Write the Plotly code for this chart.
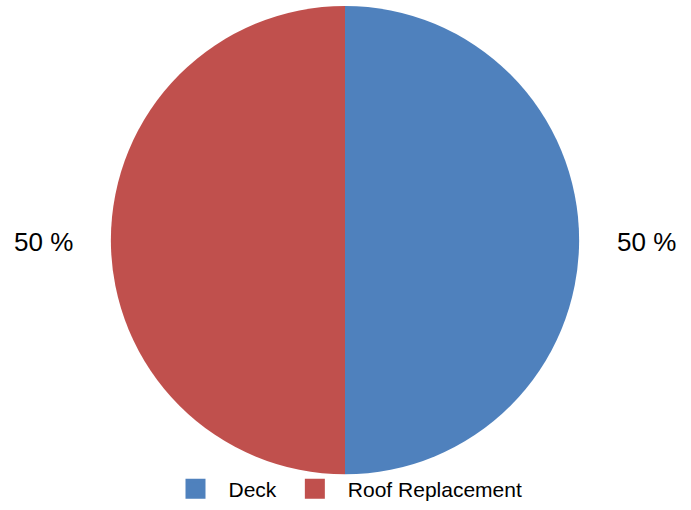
import math
import plotly.graph_objects as go

labels = ["Deck", "Roof Replacement"]
values = [1, 1]
colors = ["#4F81BD", "#C0504D"]

W, H = 691, 510
ml, mr, mt, mb = 109, 110, 6, 0
pw, ph = W - ml - mr, H - mt - mb
pie_h = 472
dom_y0 = (ph - pie_h) / ph

fig = go.Figure()
fig.add_trace(go.Pie(
    labels=labels, values=values, sort=False, direction="clockwise", rotation=0,
    marker=dict(colors=colors, line=dict(width=0)),
    textinfo="none", hoverinfo="label+percent", showlegend=False,
    domain=dict(x=[0, 1], y=[dom_y0, 1]),
))
for lab, col in zip(labels, colors):
    fig.add_trace(go.Scatter(x=[None], y=[None], mode="markers", name=lab,
                             marker=dict(symbol="square", size=16, color=col,
                                         line=dict(width=4, color=col)),
                             showlegend=True, hoverinfo="skip"))

total = sum(values)
start = 0.0
annots = []
yc = 1 - (pie_h / 2) / ph
for v in values:
    frac = v / total
    mid = (start + frac / 2) * 2 * math.pi
    start += frac
    rr = 1.29
    x = 0.5 + rr * 234 * math.sin(mid) / pw
    y = yc + rr * 234 * math.cos(mid) / ph
    annots.append(dict(x=x, y=y, xref="paper", yref="paper", showarrow=False,
                       text=f"{round(frac * 100)} %", font=dict(size=26, color="#000000"),
                       xanchor="center", yanchor="middle", yshift=-2))

fig.update_layout(
    width=W, height=H, margin=dict(l=ml, r=mr, t=mt, b=mb),
    paper_bgcolor="white", plot_bgcolor="white",
    font=dict(family="Liberation Sans, Arial, sans-serif", color="#000000"),
    annotations=annots,
    xaxis=dict(visible=False), yaxis=dict(visible=False),
    showlegend=True,
    legend=dict(orientation="h", x=0.5, xanchor="center", y=17 / ph, yanchor="middle",
                font=dict(size=21), itemwidth=56, itemsizing="trace", traceorder="normal",
                bgcolor="rgba(0,0,0,0)"),
)
fig.write_html("out.html")
